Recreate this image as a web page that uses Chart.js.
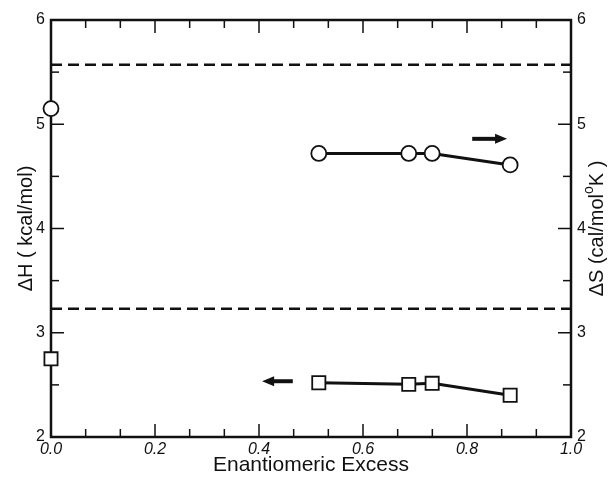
<!DOCTYPE html>
<html>
<head>
<meta charset="utf-8">
<script src="https://cdn.jsdelivr.net/npm/chart.js@4.4.1/dist/chart.umd.min.js"></script>
<style>
  body { margin: 0; background: #fff; }
  #wrap { width: 608px; height: 478px; }
</style>
</head>
<body>
<div id="wrap"><canvas id="eeChart"></canvas></div>
<script>
// measured mixtures
const eeValues = [0.515, 0.688, 0.733, 0.883];
const deltaH = [2.52, 2.505, 2.515, 2.40];   // kcal/mol, left axis
const deltaS = [4.72, 4.72, 4.72, 4.61];     // cal/mol K, right axis

// racemate, ee = 0
const racemicEE = [0];
const racemicH = [2.75];
const racemicS = [5.15];

// dashed reference levels
const limitEE = [0, 1];
const limitH = [3.23, 3.23];
const limitS = [5.57, 5.57];

// arrows telling which axis goes with which series: [from, to, level]
const arrowS = [0.81, 0.877, 4.86];
const arrowH = [0.465, 0.406, 2.535];

const xTickLabels = ['0.0', '0.2', '0.4', '0.6', '0.8', '1.0'];
const yTickLabels = ['2', '3', '4', '5', '6'];

const INK = '#111';
Chart.defaults.font.family = '"Liberation Sans", Arial, Helvetica, sans-serif';
Chart.defaults.color = INK;

function pts(xs, ys) {
    return xs.map((x, i) => ({ x: x, y: ys[i] }));
}

function line(ctx, x0, y0, x1, y1) {
    ctx.beginPath();
    ctx.moveTo(x0, y0);
    ctx.lineTo(x1, y1);
    ctx.stroke();
}

function arrow(ctx, x0, x1, y) {
    const dir = x1 > x0 ? 1 : -1;
    ctx.lineWidth = 4;
    line(ctx, x0, y, x1 - dir * 9, y);
    ctx.beginPath();
    ctx.moveTo(x1, y);
    ctx.lineTo(x1 - dir * 12, y - 5);
    ctx.lineTo(x1 - dir * 12, y + 5);
    ctx.closePath();
    ctx.fill();
}

const frameAndMarks = {
    id: 'frameAndMarks',
    beforeDatasetsDraw(chart) {
        const { ctx, chartArea: a, scales } = chart;
        ctx.save();
        ctx.strokeStyle = INK;
        ctx.lineWidth = 1.5;
        scales.x.ticks.forEach((t, i) => {
            const px = scales.x.getPixelForValue(t.value);
            const len = i % 3 === 0 ? 13 : 8;
            line(ctx, px, a.bottom, px, a.bottom - len);
            line(ctx, px, a.top, px, a.top + len);
        });
        scales.yH.ticks.forEach(t => {
            const py = scales.yH.getPixelForValue(t.value);
            const len = Number.isInteger(t.value) ? 13 : 8;
            line(ctx, a.left, py, a.left + len, py);
            line(ctx, a.right, py, a.right - len, py);
        });
        ctx.lineWidth = 2.5;
        ctx.strokeRect(a.left, a.top, a.right - a.left, a.bottom - a.top);
        ctx.restore();
    },
    afterDatasetsDraw(chart) {
        const { ctx, scales } = chart;
        ctx.save();
        ctx.strokeStyle = INK;
        ctx.fillStyle = INK;
        arrow(ctx, scales.x.getPixelForValue(arrowS[0]), scales.x.getPixelForValue(arrowS[1]),
            scales.yS.getPixelForValue(arrowS[2]));
        arrow(ctx, scales.x.getPixelForValue(arrowH[0]), scales.x.getPixelForValue(arrowH[1]),
            scales.yH.getPixelForValue(arrowH[2]));
        ctx.restore();
    },
    afterDraw(chart) {
        // right axis title reads bottom to top, with a raised degree "o"
        const { ctx, chartArea: a } = chart;
        const big = '20px "Liberation Sans", Arial, sans-serif';
        const small = '14px "Liberation Sans", Arial, sans-serif';
        const parts = [['\u0394S (cal/mol', big, 0], ['o', small, -8], ['K )', big, 0]];
        ctx.save();
        ctx.fillStyle = INK;
        ctx.textBaseline = 'middle';
        let total = 0;
        parts.forEach(p => { ctx.font = p[1]; total += ctx.measureText(p[0]).width; });
        ctx.translate(597, (a.top + a.bottom) / 2);
        ctx.rotate(-Math.PI / 2);
        let x = -total / 2;
        parts.forEach(p => {
            ctx.font = p[1];
            ctx.fillText(p[0], x, p[2]);
            x += ctx.measureText(p[0]).width;
        });
        ctx.restore();
    }
};

const markerBase = {
    borderColor: INK,
    backgroundColor: '#fff',
    pointBackgroundColor: '#fff',
    pointBorderColor: INK,
    pointBorderWidth: 1.8,
    clip: false
};

new Chart(document.getElementById('eeChart'), {
    type: 'scatter',
    data: {
        datasets: [
            {
                data: pts(limitEE, limitS), yAxisID: 'yS', showLine: true,
                borderColor: INK, borderWidth: 2.5, borderDash: [11, 6], pointRadius: 0
            },
            {
                data: pts(limitEE, limitH), yAxisID: 'yH', showLine: true,
                borderColor: INK, borderWidth: 2.5, borderDash: [11, 6], pointRadius: 0
            },
            Object.assign({
                data: pts(eeValues, deltaS), yAxisID: 'yS', showLine: true, borderWidth: 3,
                pointStyle: 'circle', pointRadius: 7.5
            }, markerBase),
            Object.assign({
                data: pts(eeValues, deltaH), yAxisID: 'yH', showLine: true, borderWidth: 3,
                pointStyle: 'rect', pointRadius: 9.3
            }, markerBase),
            Object.assign({
                data: pts(racemicEE, racemicS), yAxisID: 'yS',
                pointStyle: 'circle', pointRadius: 7.5
            }, markerBase),
            Object.assign({
                data: pts(racemicEE, racemicH), yAxisID: 'yH',
                pointStyle: 'rect', pointRadius: 9.3
            }, markerBase)
        ]
    },
    options: {
        responsive: true,
        maintainAspectRatio: false,
        animation: false,
        layout: { padding: { top: 20, left: 0, right: 0, bottom: 0 } },
        plugins: {
            legend: { display: false },
            tooltip: { enabled: false }
        },
        scales: {
            x: {
                type: 'linear',
                min: 0,
                max: 1,
                afterBuildTicks: s => {
                    s.ticks = Array.from({ length: 16 }, (_, i) => ({ value: i / 15 }));
                },
                afterFit: s => { s.height = 41; },
                grid: { display: false, drawTicks: false },
                border: { display: false },
                ticks: {
                    autoSkip: false, maxRotation: 0, minRotation: 0, padding: 3,
                    font: { size: 16, style: 'italic' },
                    callback: (v, i) => (i % 3 === 0 ? xTickLabels[i / 3] : '')
                },
                title: {
                    display: true, text: 'Enantiomeric Excess',
                    font: { size: 21 }, padding: { top: 0, bottom: 0 }
                }
            },
            yH: {
                type: 'linear',
                position: 'left',
                min: 2,
                max: 6,
                afterFit: s => { s.width = 51; },
                grid: { display: false, drawTicks: false },
                border: { display: false },
                ticks: {
                    stepSize: 0.5, padding: 6, font: { size: 16 },
                    callback: v => (Number.isInteger(v) ? yTickLabels[v - 2] : '')
                },
                title: {
                    display: true, text: '\u0394H ( kcal/mol)',
                    font: { size: 20 }, padding: { top: 14, bottom: 0 }
                }
            },
            yS: {
                type: 'linear',
                position: 'right',
                min: 2,
                max: 6,
                afterFit: s => { s.width = 37; },
                grid: { display: false, drawTicks: false },
                border: { display: false },
                ticks: {
                    stepSize: 0.5, padding: 6, font: { size: 16 },
                    callback: v => (Number.isInteger(v) ? yTickLabels[v - 2] : '')
                }
            }
        }
    },
    plugins: [frameAndMarks]
});
</script>
</body>
</html>
